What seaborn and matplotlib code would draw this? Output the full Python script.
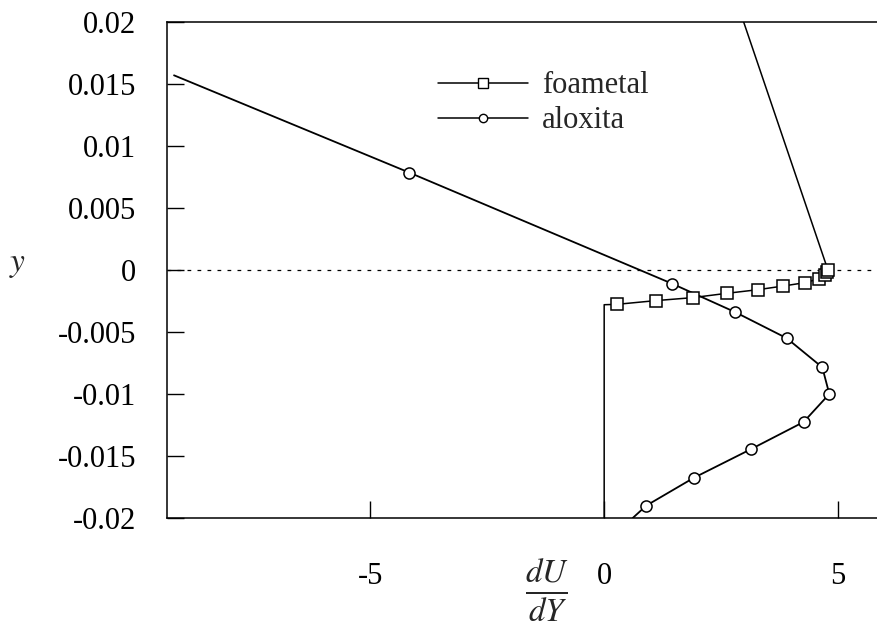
import matplotlib
matplotlib.use("Agg")
import matplotlib.pyplot as plt
from matplotlib.lines import Line2D
import seaborn as sns
import pandas as pd

# foametal series (line points); markers on the "square" subset
foam_x = [0.0, 0.0, 0.27, 1.10, 1.89, 2.62, 3.28, 3.83, 4.29, 4.60, 4.72, 4.76, 4.78, 2.98]
foam_y = [-0.02, -0.0028, -0.00277, -0.00247, -0.00223, -0.00188, -0.00159, -0.00129,
          -0.00102, -0.00070, -0.0004, -0.0002, 0.0, 0.02]
foam_marked = [False, False, True, True, True, True, True, True, True, True, True, True, True, False]

# aloxita series
alox_x = [-9.19, -4.16, 1.45, 2.80, 3.90, 4.66, 4.81, 4.26, 3.14, 1.91, 0.90, 0.61]
alox_y = [0.0157, 0.00785, -0.0011, -0.0034, -0.0055, -0.00785, -0.0100, -0.01226,
          -0.01444, -0.01677, -0.0190, -0.02]
alox_marked = [False, True, True, True, True, True, True, True, True, True, True, False]

xticks = [-5, 0, 5]
xtick_labels = ["-5", "0", "5"]
yticks = [0.02, 0.015, 0.01, 0.005, 0, -0.005, -0.01, -0.015, -0.02]
ytick_labels = ["0.02", "0.015", "0.01", "0.005", "0", "-0.005", "-0.01", "-0.015", "-0.02"]

sns.set_style("white")
plt.rcParams["font.family"] = ["Liberation Serif", "DejaVu Serif"]
plt.rcParams["mathtext.fontset"] = "stix"

fig = plt.figure(figsize=(8.78, 6.25), dpi=100)
ax = fig.add_axes([167 / 878, 1 - 518 / 625, 1 - 167 / 878, (518 - 22) / 625])

foam = pd.DataFrame({"x": foam_x, "y": foam_y, "m": foam_marked})
alox = pd.DataFrame({"x": alox_x, "y": alox_y, "m": alox_marked})

ax.axhline(0, color="black", lw=0.9, ls=(0, (3, 5)), zorder=1)

sns.lineplot(data=foam, x="x", y="y", sort=False, estimator=None, color="black", lw=1.1, ax=ax, zorder=2)
sns.lineplot(data=alox, x="x", y="y", sort=False, estimator=None, color="black", lw=1.3, ax=ax, zorder=2)

fm = foam[foam["m"]]
am = alox[alox["m"]]
ax.plot(fm["x"], fm["y"], ls="none", marker="s", ms=9, mfc="white", mec="black", mew=1.1, zorder=3)
ax.plot(am["x"], am["y"], ls="none", marker="o", ms=8, mfc="white", mec="black", mew=1.1, zorder=3)

ax.set_xlim(-9.34, 5.85)
ax.set_ylim(-0.02, 0.02)
ax.set_xticks(xticks)
ax.set_xticklabels(xtick_labels)
ax.set_yticks(yticks)
ax.set_yticklabels(ytick_labels)
ax.tick_params(axis="both", which="major", direction="in", length=12, width=1,
               labelsize=22, colors="black", bottom=True, left=True, top=False, right=False)
ax.tick_params(axis="x", pad=32)
ax.tick_params(axis="y", pad=22)
ax.set_xlabel("")
ax.set_ylabel("")

for s in ["left", "bottom", "top"]:
    ax.spines[s].set_visible(True)
    ax.spines[s].set_color("black")
    ax.spines[s].set_linewidth(1.1)
ax.spines["right"].set_visible(False)

handles = [
    Line2D([], [], color="black", lw=1.1, marker="s", ms=7, mfc="white", mec="black"),
    Line2D([], [], color="black", lw=1.1, marker="o", ms=6, mfc="white", mec="black"),
]
leg = ax.legend(handles, ["foametal", "aloxita"], loc="upper left",
                bbox_to_anchor=((423 - 167) / (878 - 167), (518 - 56) / 496),
                frameon=False, fontsize=22, numpoints=1, handlelength=2.95,
                handletextpad=0.45, labelspacing=0.2, borderpad=0.0)

fig.text(547 / 878, 1 - 591 / 625, r"$\frac{dU}{dY}$", ha="center", va="center", fontsize=34)
fig.text(18 / 878, 1 - 265 / 625, r"$y$", ha="center", va="center", fontsize=24)

fig.savefig("out.png", dpi=100)
